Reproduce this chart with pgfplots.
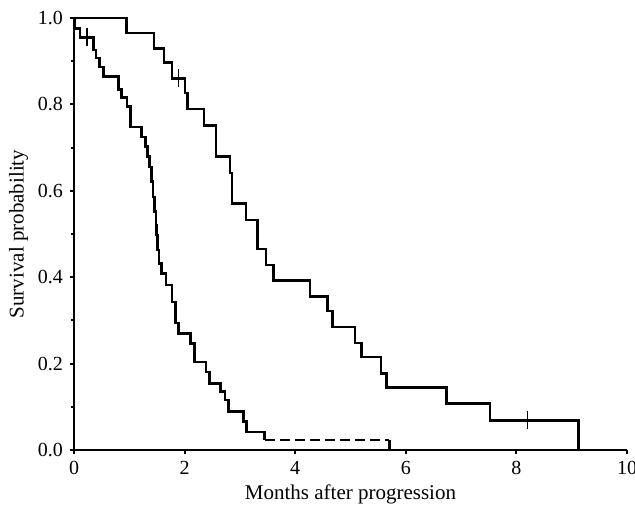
\documentclass[border=0pt]{standalone}
\usepackage{pgfplots}
\pgfplotsset{compat=1.18}
\usepackage{fontspec}
\setmainfont{Liberation Serif}
\begin{document}
\begin{tikzpicture}
\begin{axis}[
  scale only axis,
  width=276.5pt, height=216pt,
  xmin=0, xmax=10, ymin=0, ymax=1,
  axis x line*=bottom, axis y line*=left,
  axis line style={line width=1pt, -},
  xtick={0,2,4,6,8,10},
  ytick={0,0.2,0.4,0.6,0.8,1.0},
  minor ytick={0.1,0.3,0.5,0.7,0.9},
  tick align=outside,
  major tick length=2pt, minor tick length=1.5pt,
  tick style={line width=1pt, black},
  yticklabel style={/pgf/number format/.cd, fixed, fixed zerofill, precision=1},
  /pgf/number format/assume math mode=true,
  ticklabel style={font=\fontsize{10}{12}\selectfont},
  xlabel={Months after progression},
  ylabel={Survival probability},
  label style={font=\fontsize{10.5}{12}\selectfont},
  xlabel style={at={(axis description cs:0.5,-0.102)}, anchor=center},
  ylabel style={at={(axis description cs:-0.1,0.5)}, anchor=center, rotate=0},
  clip=false,
]
% Upper (solid) curve
\addplot[const plot, black, line width=1.3pt] coordinates {
(0,1.0)(0.95,0.965)(1.45,0.930)(1.63,0.897)(1.77,0.860)(2.01,0.826)(2.05,0.789)
(2.35,0.751)(2.57,0.679)(2.82,0.641)(2.86,0.571)(3.11,0.532)(3.32,0.465)(3.47,0.428)
(3.61,0.393)(4.27,0.355)(4.58,0.322)(4.67,0.285)(5.08,0.248)(5.20,0.215)(5.55,0.177)
(5.65,0.144)(6.74,0.108)(7.52,0.069)(9.12,0.0)};
% Lower curve
\addplot[const plot, black, line width=1.3pt] coordinates {
(0,1.0)(0.01,0.976)(0.11,0.955)(0.35,0.926)(0.40,0.907)(0.46,0.887)(0.53,0.864)
(0.80,0.835)(0.86,0.816)(0.96,0.795)(1.02,0.748)(1.22,0.725)(1.29,0.702)(1.33,0.679)
(1.37,0.655)(1.40,0.621)(1.43,0.586)(1.46,0.552)(1.48,0.520)(1.49,0.498)(1.51,0.463)
(1.54,0.432)(1.58,0.409)(1.66,0.382)(1.77,0.343)(1.84,0.294)(1.89,0.270)(2.11,0.247)
(2.18,0.204)(2.39,0.181)(2.45,0.154)(2.65,0.135)(2.73,0.116)(2.79,0.089)(3.06,0.066)
(3.12,0.042)(3.45,0.023)};
% Lower curve dashed tail
\addplot[black, line width=1.3pt, dash pattern=on 5pt off 2.5pt] coordinates {
(3.45,0.023)(5.70,0.023)};
\addplot[black, line width=1.3pt] coordinates {(5.70,0.023)(5.70,0)};
% Censoring marks
\addplot[only marks, mark=|, mark size=4.5pt, mark options={line width=0.9pt}, black] coordinates {
(1.89,0.860)(8.20,0.069)(0.24,0.955)};
\end{axis}
\path (current axis.south west) ++(-37pt,-29.5pt) coordinate (sw);
\path (current axis.north east) ++(4pt,9pt) coordinate (ne);
\pgfresetboundingbox
\useasboundingbox (sw) rectangle (ne);
\end{tikzpicture}
\end{document}
